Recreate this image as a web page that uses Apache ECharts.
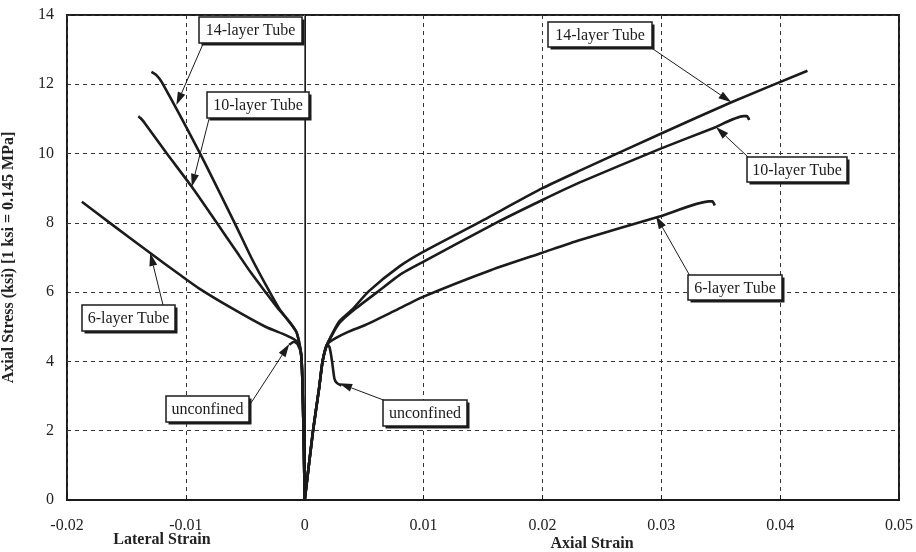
<!DOCTYPE html>
<html>
<head>
<meta charset="utf-8">
<script src="https://cdn.jsdelivr.net/npm/echarts@6/dist/echarts.min.js"></script>
<style>
html,body{margin:0;padding:0;background:#fff;}
#c{width:916px;height:552px;}
</style>
</head>
<body>
<div id="c"></div>
<script>
// ---- data (strain, stress ksi) ----
const xTickLabels = ['-0.02','-0.01','0','0.01','0.02','0.03','0.04','0.05'];
const yTickLabels = ['0','2','4','6','8','10','12','14'];

const tube14Lateral = [[-0.0129,12.36],[-0.0125,12.27],[-0.0120,12.05],[-0.0088,10.0],[-0.0059,8.0],[-0.0045,7.0],[-0.0031,6.1],[-0.0021,5.5],[-0.0012,5.1],[-0.0007,4.85],[-0.0005,4.6],[-0.0003,4.2],[-0.0002,3.5],[-0.0001,2.0],[0,0]];
const tube10Lateral = [[-0.0140,11.08],[-0.0138,11.02],[-0.0135,10.9],[-0.0116,10.0],[-0.0095,9.04],[-0.0074,8.0],[-0.0058,7.2],[-0.0045,6.55],[-0.0033,6.0],[-0.0023,5.55],[-0.0013,5.15],[-0.0007,4.85],[-0.0005,4.6],[-0.0003,4.2],[-0.0002,3.5],[-0.0001,2.0],[0,0]];
const tube6Lateral = [[-0.01875,8.61],[-0.0164,8.0],[-0.013,7.13],[-0.0105,6.5],[-0.0089,6.11],[-0.0061,5.53],[-0.0033,5.0],[-0.0016,4.76],[-0.0008,4.62],[-0.0005,4.5],[-0.0003,4.2],[-0.0002,3.5],[-0.0001,2.0],[0,0]];
const unconfinedLateral = [[-0.0013,4.48],[-0.0009,4.57],[-0.0006,4.5],[-0.0003,4.2],[-0.0002,3.5],[-0.0001,2.0],[0,0]];

const tube14Axial = [[0,0],[0.0007,2.0],[0.0012,3.2],[0.0015,4.0],[0.0019,4.5],[0.0029,5.15],[0.004,5.5],[0.0054,6.03],[0.008,6.75],[0.01,7.17],[0.0146,8.0],[0.02,9.0],[0.0231,9.5],[0.03,10.58],[0.0359,11.48],[0.0423,12.39]];
const tube10Axial = [[0,0],[0.0007,2.0],[0.0012,3.2],[0.0015,4.0],[0.0019,4.5],[0.0029,5.1],[0.004,5.45],[0.0061,6.0],[0.008,6.5],[0.01,6.88],[0.0161,8.0],[0.02,8.66],[0.0231,9.16],[0.03,10.15],[0.0344,10.74],[0.0369,11.08],[0.0372,11.08],[0.0374,10.97]];
const tube6Axial = [[0,0],[0.0007,2.0],[0.0012,3.2],[0.0015,4.0],[0.0019,4.5],[0.0026,4.67],[0.0037,4.86],[0.0051,5.05],[0.0075,5.45],[0.01,5.87],[0.0157,6.64],[0.02,7.14],[0.0231,7.5],[0.03,8.2],[0.034,8.62],[0.0343,8.62],[0.0345,8.5]];
const unconfinedAxial = [[0,0],[0.0007,2.0],[0.0012,3.2],[0.0015,4.0],[0.0019,4.5],[0.0021,4.4],[0.0023,4.0],[0.0025,3.5],[0.0027,3.38],[0.0031,3.3]];

// ---- annotation labels (box in pixels, arrow tip in data units) ----
const annotations = [
  {text:'14-layer Tube', box:[199,17,103,26], from:[203,44], tip:[-0.0108,11.4]},
  {text:'10-layer Tube', box:[207,92,102,26], from:[209,119], tip:[-0.0095,9.04]},
  {text:'6-layer Tube',  box:[82,305,93,26],  from:[163,305], tip:[-0.0130,7.13]},
  {text:'unconfined',    box:[166,396,83,26], from:[249,406], tip:[-0.0013,4.5]},
  {text:'unconfined',    box:[383,400,84,26], from:[386,401], tip:[0.0029,3.37]},
  {text:'14-layer Tube', box:[548,22,104,25], from:[650,47], tip:[0.0359,11.48]},
  {text:'10-layer Tube', box:[747,157,100,25], from:[748,157], tip:[0.0346,10.77]},
  {text:'6-layer Tube',  box:[688,275,94,25], from:[690,276], tip:[0.02955,8.2]}
];

const chart = echarts.init(document.getElementById('c'), null, {renderer:'canvas'});
const serif = '"Liberation Serif","DejaVu Serif",serif';
const lineColor = '#1b1b1b';

function mkSeries(name, data, extra){
  return Object.assign({
    name, type:'line', data, showSymbol:false, symbol:'none', smooth:0.2,
    lineStyle:{color:lineColor, width:2.6}, z:3, silent:true
  }, extra||{});
}

const series = [
  mkSeries('14-layer lateral', tube14Lateral, {
    markLine:{silent:true, symbol:'none', label:{show:false},
      lineStyle:{type:'solid', color:'#6a6a6a', width:1}, data:[{xAxis:0}], z:1}
  }),
  mkSeries('10-layer lateral', tube10Lateral),
  mkSeries('6-layer lateral', tube6Lateral),
  mkSeries('unconfined lateral', unconfinedLateral),
  mkSeries('14-layer axial', tube14Axial),
  mkSeries('10-layer axial', tube10Axial),
  mkSeries('6-layer axial', tube6Axial),
  mkSeries('unconfined axial', unconfinedAxial)
];

chart.setOption({
  animation:false,
  backgroundColor:'#fff',
  grid:{left:67, right:17, top:15, bottom:52, containLabel:false, outerBoundsMode:'none',
    show:true, borderColor:'#1b1b1b', borderWidth:2, backgroundColor:'transparent'},
  xAxis:{
    type:'value', min:-0.02, max:0.05, interval:0.01,
    axisLine:{show:true, onZero:false, lineStyle:{color:'#1b1b1b', width:2}},
    axisTick:{show:true, inside:true, length:5, lineStyle:{color:'#1b1b1b'}},
    axisLabel:{margin:18, color:'#222', fontFamily:serif, fontSize:16,
      formatter:(v,i)=>xTickLabels[i]},
    splitLine:{show:true, lineStyle:{type:[4,4], color:'#333', width:1}}
  },
  yAxis:{
    type:'value', min:0, max:14, interval:2,
    name:'Axial Stress (ksi) [1 ksi = 0.145 MPa]', nameLocation:'middle', nameGap:50, nameRotate:90,
    nameTextStyle:{fontFamily:serif, fontWeight:'bold', fontSize:16, color:'#222'},
    axisLine:{show:true, lineStyle:{color:'#1b1b1b', width:2}},
    axisTick:{show:false},
    axisLabel:{margin:13, color:'#222', fontFamily:serif, fontSize:16,
      formatter:(v,i)=>yTickLabels[i]},
    splitLine:{show:true, lineStyle:{type:[4,4], color:'#333', width:1}}
  },
  series
});

// ---- annotation graphics ----
const g = [];
annotations.forEach(a=>{
  const [bx,by,bw,bh] = a.box;
  g.push({type:'rect', shape:{x:bx+2.5,y:by+2.5,width:bw,height:bh}, style:{fill:'#1b1b1b'}, z:10});
  g.push({type:'rect', shape:{x:bx,y:by,width:bw,height:bh}, style:{fill:'#fff', stroke:'#1b1b1b', lineWidth:1.5}, z:11});
  g.push({type:'text', x:bx+bw/2, y:by+bh/2+1, style:{text:a.text, fill:'#1b1b1b', font:'16px '+serif, textAlign:'center', textVerticalAlign:'middle'}, z:12});
  const tp = chart.convertToPixel({xAxisIndex:0,yAxisIndex:0}, a.tip);
  const [fx,fy] = a.from;
  const dx = tp[0]-fx, dy = tp[1]-fy, L = Math.hypot(dx,dy);
  const ux = dx/L, uy = dy/L, hl = 13, hw = 4;
  const bxp = tp[0]-ux*hl, byp = tp[1]-uy*hl;
  g.push({type:'line', shape:{x1:fx,y1:fy,x2:bxp,y2:byp}, style:{stroke:'#1b1b1b', lineWidth:1}, z:9});
  g.push({type:'polygon', shape:{points:[[tp[0],tp[1]],[bxp-uy*hw,byp+ux*hw],[bxp+uy*hw,byp-ux*hw]]}, style:{fill:'#1b1b1b'}, z:9});
});
g.push({type:'text', x:162, y:540, style:{text:'Lateral Strain', fill:'#222', font:'bold 16px '+serif, textAlign:'center', textVerticalAlign:'middle'}});
g.push({type:'text', x:592, y:544, style:{text:'Axial Strain', fill:'#222', font:'bold 16px '+serif, textAlign:'center', textVerticalAlign:'middle'}});
chart.setOption({graphic:g});
</script>
</body>
</html>
